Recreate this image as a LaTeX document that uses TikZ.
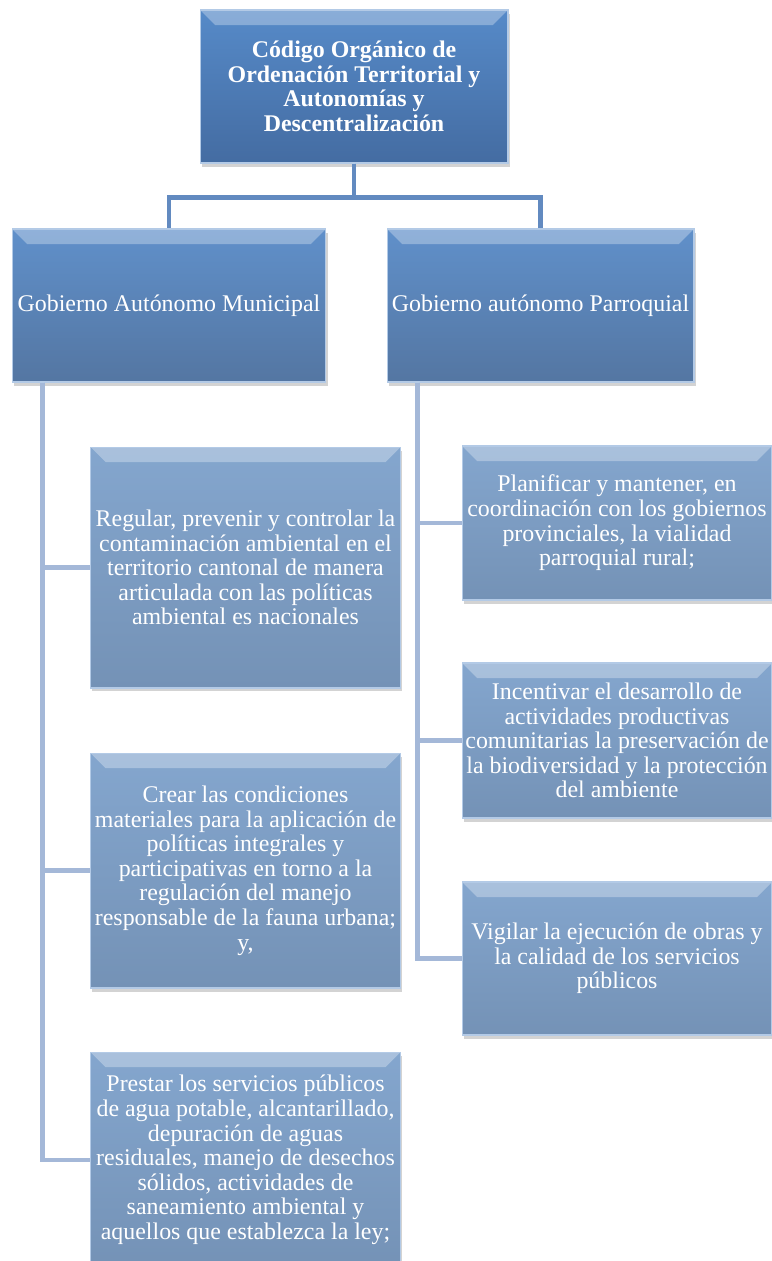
\documentclass[tikz,border=0pt]{standalone}
\usepackage{fontspec}
\setmainfont{Liberation Serif}
\usetikzlibrary{shadows}

\definecolor{headtop}{RGB}{86,138,200}
\definecolor{headbot}{RGB}{68,108,162}
\definecolor{govtop}{RGB}{96,144,202}
\definecolor{govbot}{RGB}{84,118,162}
\definecolor{itemtop}{RGB}{132,166,206}
\definecolor{itembot}{RGB}{116,146,182}
\definecolor{linkdark}{RGB}{98,138,192}
\definecolor{linklight}{RGB}{164,184,216}

\begin{document}
\begin{tikzpicture}[x=0.02cm, y=-0.02cm]
    \tikzset{
      box/.style={rectangle, draw=white!55!headtop, line width=0.6pt,
        align=center, text=white, inner sep=0pt,
        font=\fontsize{13.6}{14}\selectfont,
        drop shadow={opacity=0.35, shadow xshift=1pt, shadow yshift=-2pt},
        path picture={\fill[white, opacity=0.3]
          (path picture bounding box.north west) -- (path picture bounding box.north east)
          -- ([xshift=-0.3cm, yshift=-0.3cm]path picture bounding box.north east)
          -- ([xshift=0.3cm, yshift=-0.3cm]path picture bounding box.north west) -- cycle;}}, % bevelled blue box
      head/.style={box, top color=headtop, bottom color=headbot, font=\fontsize{13.6}{14}\selectfont\bfseries,
        minimum width=6.16cm, minimum height=3.06cm},
      gov/.style={box, top color=govtop, bottom color=govbot, minimum height=3.06cm},
      item/.style={box, top color=itemtop, bottom color=itembot, minimum width=6.2cm},
      link/.style={line width=2.8pt, linklight},
    }

    \useasboundingbox (0,0) rectangle (771,1261);

    % top level
    \node[head] (code) at (354,86.5) {Código Orgánico de\\Ordenación Territorial y\\Autonomías y\\Descentralización};

    % second level
    \node[gov, minimum width=6.28cm] (gam) at (169,305.5) {Gobierno Autónomo Municipal};
    \node[gov, minimum width=6.14cm] (gap) at (540.5,305.5) {Gobierno autónomo Parroquial};

    % municipal items
    \node[item, minimum height=4.82cm] (m1) at (245.5,567.5) {Regular, prevenir y controlar la\\contaminación ambiental en el\\territorio cantonal de manera\\articulada con las políticas\\ambiental es nacionales};
    \node[item, minimum height=4.7cm] (m2) at (245.5,870.5) {Crear las condiciones\\materiales para la aplicación de\\políticas integrales y\\participativas en torno a la\\regulación del manejo\\responsable de la fauna urbana;\\y,};
    \node[item, minimum height=4.32cm] (m3) at (245.5,1160) {Prestar los servicios públicos\\de agua potable, alcantarillado,\\depuración de aguas\\residuales, manejo de desechos\\sólidos, actividades de\\saneamiento ambiental y\\aquellos que establezca la ley;};

    % parroquial items
    \node[item, minimum height=3.08cm] (p1) at (617,523) {Planificar y mantener, en\\coordinación con los gobiernos\\provinciales, la vialidad\\parroquial rural;};
    \node[item, minimum height=3.1cm] (p2) at (617,740.5) {Incentivar el desarrollo de\\actividades productivas\\comunitarias la preservación de\\la biodiversidad y la protección\\del ambiente};
    \node[item, minimum height=3.06cm] (p3) at (617,958.5) {Vigilar la ejecución de obras y\\la calidad de los servicios\\públicos};

    % connectors
    \draw[link, linkdark] (code.south) -- ++(0,34) -| (gam.north);
    \draw[link, linkdark] (code.south) -- ++(0,34) -| (gap.north);
    \foreach \m in {m1, m2, m3}
      \draw[link] ([xshift=0.62cm]gam.south west) |- (\m.west);
    \foreach \p in {p1, p2, p3}
      \draw[link] ([xshift=0.62cm]gap.south west) |- (\p.west);
\end{tikzpicture}
\end{document}
